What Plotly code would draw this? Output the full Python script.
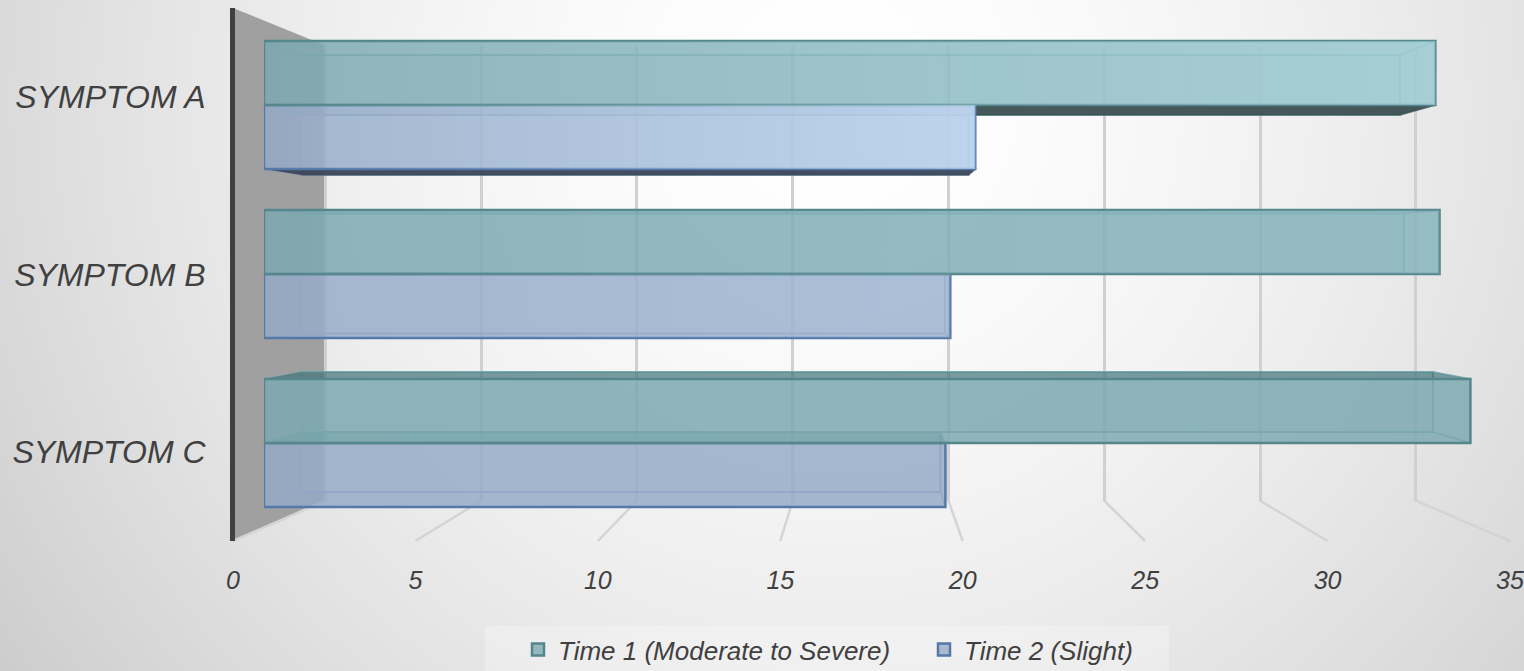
import numpy as np
import plotly.graph_objects as go

categories = ["SYMPTOM A", "SYMPTOM B", "SYMPTOM C"]
time1_values = [33.76, 33.88, 34.77]
time2_values = [20.5, 19.78, 19.64]
time1_name = "Time 1 (Moderate to Severe)"
time2_name = "Time 2 (Slight)"
tick_values = [0, 5, 10, 15, 20, 25, 30, 35]

W, H = 1524, 671

# One-point perspective used for the fake 3D box look: every plane is the
# front plane scaled by a depth factor around the vanishing point.
VX, VY = 865.0, 265.0
LEFT, RIGHT, TOP, BOTTOM = 233.0, 1510.0, 8.0, 541.0
K_FRONT, K_BAR_NEAR, K_BAR_FAR, K_WALL = 1.0, 0.951, 0.892, 0.854
X_MAX = 35.0
BARGAP = 0.2424
BAR_W = (1 - BARGAP) / 2

TEAL_EDGE = "rgb(84,134,140)"
BLUE_EDGE = "rgb(84,120,168)"
TEXT = "#404040"


def px(v, k):
    return VX + (LEFT + (RIGHT - LEFT) * v / X_MAX - VX) * k


def py(y, k):
    return VY + (y - VY) * k


def row_y(i, part):
    """Plane y of a bar edge: part -1 top of Time 1, 0 shared edge, 1 bottom of Time 2."""
    row_h = (BOTTOM - TOP) / len(categories)
    return TOP + (i + 0.5) * row_h + part * row_h * BAR_W


def plane_axes(k, lo=0.0, hi=X_MAX):
    xd = [px(lo, k) / W, px(hi, k) / W]
    yd = [1 - py(BOTTOM, k) / H, 1 - py(TOP, k) / H]
    return xd, yd


fig = go.Figure()

# --- page background, a soft radial gray gradient -----------------------
gx = np.linspace(-30, W + 30, 64)
gy = np.linspace(-30, H + 30, 32)
mx, my = np.meshgrid(gx, gy)
dist = np.sqrt(((mx - 830) / 1000) ** 2 + ((my - 100) / 1000) ** 2)
shade = 255 - 50 * dist ** 1.6
fig.add_trace(go.Heatmap(
    x=gx, y=gy, z=shade, zmin=0, zmax=255, zsmooth="best", showscale=False,
    colorscale=[[0, "rgb(0,0,0)"], [1, "rgb(255,255,255)"]], hoverinfo="skip",
    xaxis="x", yaxis="y"))

# side wall and floor lines
fig.add_trace(go.Scatter(
    x=[px(0, K_FRONT), px(0, K_WALL), px(0, K_WALL), px(0, K_FRONT)],
    y=[py(TOP, K_FRONT), py(TOP, K_WALL), py(BOTTOM, K_WALL), py(BOTTOM, K_FRONT)],
    mode="lines", fill="toself", fillcolor="#a0a0a0", line=dict(width=0),
    hoverinfo="skip", showlegend=False, xaxis="x", yaxis="y"))
for t in tick_values:
    fig.add_trace(go.Scatter(
        x=[px(t, K_FRONT), px(t, K_WALL)], y=[py(BOTTOM, K_FRONT), py(BOTTOM, K_WALL)],
        mode="lines", line=dict(color="#d4d4d4", width=2.5),
        hoverinfo="skip", showlegend=False, xaxis="x", yaxis="y"))

# --- labelled front axes -------------------------------------------------
fig.add_trace(go.Scatter(x=time1_values, y=categories, mode="none", hoverinfo="skip",
                         showlegend=False, xaxis="x2", yaxis="y2"))
# --- far wall gridlines --------------------------------------------------
fig.add_trace(go.Scatter(x=time1_values, y=categories, mode="none", hoverinfo="skip",
                         showlegend=False, xaxis="x3", yaxis="y3"))

# --- far faces of the bars ----------------------------------------------
fig.add_trace(go.Bar(y=categories, x=time1_values, orientation="h", showlegend=False,
                     width=BAR_W, offset=-BAR_W,
                     marker=dict(color="rgba(124,169,175,0.32)",
                                 line=dict(color="rgba(104,160,165,0.75)", width=2)),
                     hoverinfo="skip", xaxis="x4", yaxis="y4"))
fig.add_trace(go.Bar(y=categories, x=time2_values, orientation="h", showlegend=False,
                     width=BAR_W, offset=0,
                     marker=dict(color="rgba(150,172,200,0.32)",
                                 line=dict(color="rgba(125,150,190,0.75)", width=2)),
                     hoverinfo="skip", xaxis="x4", yaxis="y4"))


def face(xs, ys, fill, edge):
    fig.add_trace(go.Scatter(
        x=xs, y=ys, mode="lines", fill="toself", fillcolor=fill,
        line=dict(color=edge, width=1.5), hoverinfo="skip", showlegend=False,
        xaxis="x5", yaxis="y5"))


def box_faces(i, value, top, bottom, body, edge, clip_under=None, top_fill=None, under_fill=None):
    n, f = K_BAR_NEAR, K_BAR_FAR
    yt, yb = row_y(i, top), row_y(i, bottom)
    # left and right faces
    face([px(0, n), px(0, f), px(0, f), px(0, n)],
         [py(yt, n), py(yt, f), py(yb, f), py(yb, n)], body, edge)
    face([px(value, n), px(value, f), px(value, f), px(value, n)],
         [py(yt, n), py(yt, f), py(yb, f), py(yb, n)], body, edge)
    # top face, dark only when it faces the viewer
    top_seen = py(yt, f) < py(yt, n)
    face([px(0, n), px(value, n), px(value, f), px(0, f)],
         [py(yt, n), py(yt, n), py(yt, f), py(yt, f)],
         top_fill if top_seen else body, edge)
    # underside, dark only when it faces the viewer
    under_seen = py(yb, f) > py(yb, n)
    if under_seen:
        x_start = px(0, n) if clip_under is None else px(clip_under, n)
        x_far = px(0, f) if clip_under is None else px(clip_under, n)
        face([x_start, px(value, n), px(value, f), x_far],
             [py(yb, n), py(yb, n), py(yb, f), py(yb, f)], under_fill, "rgba(60,80,85,0.6)")
    else:
        face([px(0, n), px(value, n), px(value, f), px(0, f)],
             [py(yb, n), py(yb, n), py(yb, f), py(yb, f)], body, edge)


for i in range(len(categories)):
    box_faces(i, time2_values[i], 0, 1,
              "rgba(118,140,178,0.22)", "rgba(125,150,190,0.55)",
              top_fill="rgba(56,108,118,0.38)", under_fill="rgba(60,70,90,0.95)")
    box_faces(i, time1_values[i], -1, 0,
              "rgba(110,165,170,0.22)", "rgba(104,160,165,0.55)",
              clip_under=time2_values[i],
              top_fill="rgba(50,100,105,0.55)", under_fill="rgba(62,80,82,0.95)")

# --- near faces of the bars; Time 1 goes last so its edge stays on top ----
fig.add_trace(go.Bar(y=categories, x=time2_values, name=time2_name, orientation="h",
                     width=BAR_W, offset=0,
                     marker=dict(color="rgba(150,172,200,0.78)",
                                 line=dict(color=BLUE_EDGE, width=2.5)),
                     hoverinfo="skip", xaxis="x6", yaxis="y6"))
fig.add_trace(go.Bar(y=categories, x=time1_values, name=time1_name, orientation="h",
                     width=BAR_W, offset=-BAR_W,
                     marker=dict(color="rgba(124,169,175,0.78)",
                                 line=dict(color=TEAL_EDGE, width=2.5)),
                     hoverinfo="skip", xaxis="x6", yaxis="y6"))

# --- highlight that brightens the upper bars towards their right end ------
sheens = [(0, time1_values[0], -1, 0, "196,240,245", 0.45),
          (0, time2_values[0], 0, 1, "205,228,255", 0.62),
          (1, time1_values[1], -1, 0, "196,240,245", 0.14),
          (1, time2_values[1], 0, 1, "205,228,255", 0.16)]
for i, value, top, bottom, tint, peak in sheens:
    n = K_BAR_NEAR
    yt, yb = row_y(i, top), row_y(i, bottom)
    fig.add_trace(go.Scatter(
        x=[px(0, n), px(value, n), px(value, n), px(0, n), px(0, n)],
        y=[py(yt, n), py(yt, n), py(yb, n), py(yb, n), py(yt, n)],
        mode="lines", line=dict(width=0), fill="toself",
        fillgradient=dict(type="horizontal", colorscale=[
            [0, f"rgba({tint},0)"], [1, f"rgba({tint},{peak})"]]),
        hoverinfo="skip", showlegend=False, xaxis="x7", yaxis="y7"))


def pixel_axes(anchor):
    return dict(domain=[0, 1], visible=False, anchor=anchor, fixedrange=True)


cat_range = [len(categories) - 0.5, -0.5]
FRONT_HI, WALL_LO, WALL_HI = 35.3, -0.3, 35.3
front_x, front_y = plane_axes(K_FRONT, 0.0, FRONT_HI)
wall_x, wall_y = plane_axes(K_WALL, WALL_LO, WALL_HI)
near_x, near_y = plane_axes(K_BAR_NEAR)
far_x, far_y = plane_axes(K_BAR_FAR)
font_labels = dict(family="Liberation Sans", size=32, color=TEXT, style="italic")
font_ticks = dict(family="Liberation Sans", size=25, color=TEXT, style="italic")


def hidden_value_axis(domain, anchor):
    return dict(domain=domain, range=[0, X_MAX], visible=False, anchor=anchor)


def hidden_cat_axis(domain, anchor):
    return dict(domain=domain, range=cat_range, visible=False, anchor=anchor,
                type="category", categoryorder="array", categoryarray=categories)


fig.update_layout(
    width=W, height=H, margin=dict(l=0, r=0, t=0, b=0, autoexpand=False),
    paper_bgcolor="#e8e8e8", plot_bgcolor="rgba(0,0,0,0)",
    barmode="overlay",
    xaxis=dict(pixel_axes("y"), range=[0, W]),
    yaxis=dict(pixel_axes("x"), range=[H, 0]),
    xaxis2=dict(domain=front_x, range=[0, FRONT_HI], anchor="y2", showgrid=False, zeroline=False,
                tickmode="array", tickvals=tick_values, ticks="outside", ticklen=17,
                tickcolor="rgba(0,0,0,0)", tickfont=font_ticks, showline=False),
    yaxis2=dict(domain=front_y, range=cat_range, anchor="free", position=232 / W, type="category",
                categoryorder="array", categoryarray=categories, showgrid=False, zeroline=False,
                ticks="outside", ticklen=18, tickcolor="rgba(0,0,0,0)", tickfont=font_labels,
                showline=True, linecolor="#404040", linewidth=5),
    xaxis3=dict(domain=wall_x, range=[WALL_LO, WALL_HI], anchor="y3", showticklabels=False,
                tickmode="array", tickvals=tick_values, showgrid=True, gridcolor="#d0d0d0",
                gridwidth=2.5, zeroline=False, showline=False, ticks=""),
    yaxis3=hidden_cat_axis(wall_y, "x3"),
    xaxis4=hidden_value_axis(far_x, "y4"),
    yaxis4=hidden_cat_axis(far_y, "x4"),
    xaxis5=dict(pixel_axes("y5"), range=[0, W]),
    yaxis5=dict(pixel_axes("x5"), range=[H, 0]),
    xaxis6=hidden_value_axis(near_x, "y6"),
    yaxis6=hidden_cat_axis(near_y, "x6"),
    xaxis7=dict(pixel_axes("y7"), range=[0, W]),
    yaxis7=dict(pixel_axes("x7"), range=[H, 0]),
    legend=dict(orientation="h", x=518 / W, xanchor="left", y=1 - 626 / H, yanchor="top",
                bgcolor="rgba(0,0,0,0)", font=dict(family="Liberation Sans", size=26,
                                                    color=TEXT, style="italic"),
                itemwidth=30, traceorder="reversed", entrywidth=361, entrywidthmode="pixels"),
    hovermode=False,
    shapes=[dict(type="rect", xref="paper", yref="paper", layer="above",
                 x0=485 / W, x1=1169 / W, y0=0, y1=1 - 626 / H,
                 fillcolor="rgba(255,255,255,0.25)", line=dict(width=0))],
)

fig.write_html("out.html", config=dict(displayModeBar=False))
